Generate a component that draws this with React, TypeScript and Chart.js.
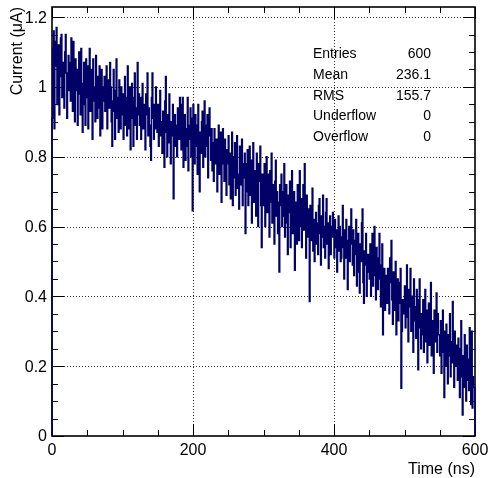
import React, { useEffect, useRef } from "react";
import { Chart, registerables } from "chart.js";

Chart.register(...registerables);

// Histogram: 600 bins of 1 ns, current in µA (bin contents)
const binLowEdges: number[] = Array.from({ length: 600 }, (_, i) => i);

const current000: number[] = [
  0.78, 0.91, 1.11, 1.16, 0.88, 1.06, 1.13, 1.17, 0.95, 1.01, 1.12, 0.92, 1.03, 1.14, 1.15, 0.97, 1.07, 1.00, 0.94, 1.10, 1.15, 1.04, 0.91, 1.01, 1.09,
  0.99, 1.07, 0.96, 1.14, 1.04, 0.93, 1.13, 1.01, 0.90, 1.08, 0.99, 1.05, 0.89, 0.98, 1.10, 1.02, 0.92, 1.11, 1.01, 0.87, 0.95, 1.07, 1.04, 0.89, 1.08,
  0.97, 1.06, 0.88, 1.02, 1.11, 0.93, 0.99, 1.05, 0.85, 1.08, 0.96, 1.00, 0.90, 1.09, 0.97, 0.91, 1.03, 0.94, 1.06, 0.86, 0.99, 1.05, 0.88, 1.00, 0.96,
  1.03, 0.93, 0.99, 1.06, 0.88, 0.97, 1.02, 0.94, 1.07, 1.00, 0.90, 0.83, 0.96, 1.05, 0.93, 0.85, 0.99, 1.08, 0.91, 0.97, 0.87, 1.02, 0.94, 0.88, 1.00,
];
const current100: number[] = [
  0.92, 0.98, 0.85, 0.95, 1.03, 0.89, 0.97, 0.86, 1.06, 0.94, 0.88, 1.00, 0.82, 0.95, 1.01, 0.91, 0.83, 0.97, 1.04, 0.89, 0.94, 0.85, 1.07, 0.92, 0.98,
  0.89, 0.97, 0.85, 0.94, 1.01, 0.88, 0.95, 0.91, 0.82, 0.98, 0.92, 1.04, 0.86, 0.94, 0.89, 0.83, 0.79, 0.97, 1.04, 0.91, 0.85, 0.95, 0.88, 1.00, 0.92,
  0.87, 0.95, 0.83, 0.92, 0.99, 0.86, 0.90, 0.81, 0.93, 0.89, 0.77, 0.96, 1.03, 0.87, 0.80, 0.92, 0.84, 0.98, 0.89, 0.78, 0.90, 0.86, 0.95, 0.68, 0.87,
  0.92, 0.83, 0.89, 0.80, 0.94, 0.88, 0.85, 0.97, 0.91, 0.82, 0.95, 0.97, 0.77, 0.86, 0.92, 0.79, 0.88, 0.83, 0.97, 0.76, 0.89, 0.85, 0.94, 0.80, 0.91,
];
const current200: number[] = [
  0.645, 0.95, 0.86, 0.78, 0.92, 0.83, 0.89, 0.75, 0.95, 0.84, 0.70, 0.87, 0.81, 0.90, 0.93, 0.77, 0.86, 0.96, 0.80, 0.89, 0.83, 0.92, 0.74, 0.86, 0.94,
  0.87, 0.79, 0.88, 0.76, 0.84, 0.73, 0.88, 0.81, 0.78, 0.85, 0.70, 0.82, 0.89, 0.75, 0.79, 0.87, 0.67, 0.84, 0.88, 0.78, 0.73, 0.85, 0.81, 0.69, 0.82,
  0.78, 0.86, 0.72, 0.81, 0.68, 0.77, 0.87, 0.66, 0.80, 0.74, 0.84, 0.69, 0.78, 0.86, 0.71, 0.75, 0.65, 0.83, 0.77, 0.72, 0.85, 0.66, 0.78, 0.74, 0.81,
  0.58, 0.78, 0.70, 0.82, 0.66, 0.75, 0.83, 0.69, 0.79, 0.61, 0.73, 0.84, 0.67, 0.76, 0.72, 0.63, 0.81, 0.70, 0.60, 0.78, 0.73, 0.83, 0.66, 0.54, 0.75,
];
const current300: number[] = [
  0.73, 0.66, 0.78, 0.60, 0.70, 0.80, 0.64, 0.75, 0.69, 0.57, 0.76, 0.67, 0.81, 0.61, 0.72, 0.66, 0.55, 0.73, 0.79, 0.63, 0.70, 0.58, 0.67, 0.47, 0.72,
  0.66, 0.75, 0.60, 0.70, 0.63, 0.78, 0.57, 0.67, 0.72, 0.61, 0.52, 0.69, 0.64, 0.73, 0.54, 0.66, 0.76, 0.58, 0.63, 0.70, 0.475, 0.61, 0.67, 0.55, 0.72,
  0.65, 0.56, 0.76, 0.60, 0.68, 0.54, 0.63, 0.72, 0.59, 0.78, 0.62, 0.51, 0.69, 0.57, 0.65, 0.60, 0.385, 0.66, 0.56, 0.63, 0.71, 0.53, 0.62, 0.50, 0.59,
  0.64, 0.55, 0.61, 0.52, 0.66, 0.68, 0.58, 0.49, 0.63, 0.57, 0.69, 0.54, 0.60, 0.51, 0.64, 0.68, 0.55, 0.61, 0.48, 0.58, 0.63, 0.52, 0.57, 0.60, 0.64,
];
const current400: number[] = [
  0.57, 0.51, 0.62, 0.54, 0.59, 0.47, 0.56, 0.63, 0.53, 0.60, 0.50, 0.51, 0.57, 0.66, 0.54, 0.45, 0.59, 0.51, 0.62, 0.56, 0.42, 0.53, 0.60, 0.50, 0.57,
  0.65, 0.55, 0.49, 0.59, 0.46, 0.56, 0.52, 0.62, 0.43, 0.53, 0.58, 0.47, 0.41, 0.55, 0.50, 0.61, 0.65, 0.44, 0.38, 0.53, 0.49, 0.58, 0.40, 0.52, 0.47,
  0.52, 0.45, 0.55, 0.40, 0.49, 0.58, 0.43, 0.51, 0.60, 0.46, 0.39, 0.54, 0.48, 0.42, 0.51, 0.58, 0.45, 0.37, 0.49, 0.55, 0.29, 0.43, 0.48, 0.36, 0.46,
  0.45, 0.38, 0.48, 0.41, 0.35, 0.51, 0.44, 0.56, 0.39, 0.32, 0.47, 0.42, 0.36, 0.50, 0.29, 0.41, 0.45, 0.33, 0.44, 0.38, 0.48, 0.137, 0.30, 0.39, 0.35,
];
const current500: number[] = [
  0.36, 0.43, 0.31, 0.39, 0.49, 0.34, 0.27, 0.42, 0.37, 0.48, 0.30, 0.36, 0.40, 0.24, 0.45, 0.33, 0.37, 0.28, 0.42, 0.34, 0.19, 0.39, 0.45, 0.31, 0.25,
  0.35, 0.29, 0.39, 0.24, 0.33, 0.42, 0.27, 0.36, 0.21, 0.32, 0.38, 0.26, 0.30, 0.44, 0.23, 0.33, 0.29, 0.18, 0.36, 0.27, 0.32, 0.41, 0.24, 0.35, 0.29,
  0.29, 0.23, 0.33, 0.18, 0.27, 0.36, 0.24, 0.11, 0.30, 0.20, 0.32, 0.26, 0.15, 0.29, 0.23, 0.35, 0.17, 0.27, 0.21, 0.385, 0.24, 0.14, 0.30, 0.20, 0.26,
  0.22, 0.16, 0.28, 0.19, 0.11, 0.25, 0.33, 0.17, 0.06, 0.23, 0.14, 0.29, 0.20, 0.10, 0.26, 0.16, 0.22, 0.13, 0.31, 0.19, 0.09, 0.30, 0.08, 0.17, 0.14,
];

const xMin = 0;
const xMax = 600;
const yMin = 0;
const yMax = 1.229;

const xMajorTicks = [0, 200, 400, 600];
const xTickLabels = ["0", "200", "400", "600"];
const xMinorTicks = [50, 100, 150, 250, 300, 350, 450, 500, 550];
const yMajorTicks = [0, 0.2, 0.4, 0.6, 0.8, 1, 1.2];
const yTickLabels = ["0", "0.2", "0.4", "0.6", "0.8", "1", "1.2"];
const yMinorTicks = [0.05, 0.1, 0.15, 0.25, 0.3, 0.35, 0.45, 0.5, 0.55, 0.65, 0.7, 0.75, 0.85, 0.9, 0.95, 1.05, 1.1, 1.15];

const xTitle = "Time (ns)";
const yTitle = "Current (μA)";
const statNames = ["Entries", "Mean", "RMS", "Underflow", "Overflow"];
const statValues = ["600", "236.1", "155.7", "0", "0"];

const FONT = '"Liberation Sans", Arial, Helvetica, sans-serif';
const LINE_COLOR = "#000066";

const rootAxesPlugin = {
  id: "rootAxes",
  beforeDatasetsDraw(chart: any) {
    const { ctx, chartArea: a, scales } = chart;
    const x = scales.x;
    const y = scales.y;
    ctx.save();
    // dotted grid
    ctx.strokeStyle = "rgba(0,0,0,0.8)";
    ctx.lineWidth = 1;
    ctx.setLineDash([1, 2]);
    xMajorTicks.forEach((v) => {
      if (v === xMin || v === xMax) return;
      const px = Math.round(x.getPixelForValue(v)) + 0.5;
      ctx.beginPath();
      ctx.moveTo(px, a.top);
      ctx.lineTo(px, a.bottom);
      ctx.stroke();
    });
    yMajorTicks.forEach((v) => {
      if (v === yMin) return;
      const py = Math.round(y.getPixelForValue(v)) + 0.5;
      ctx.beginPath();
      ctx.moveTo(a.left, py);
      ctx.lineTo(a.right, py);
      ctx.stroke();
    });
    ctx.setLineDash([]);
    // tick marks (inward, all four sides)
    ctx.strokeStyle = "#000";
    ctx.lineWidth = 1;
    const major = 12;
    const minor = 6;
    const drawX = (v: number, len: number) => {
      const px = Math.round(x.getPixelForValue(v)) + 0.5;
      ctx.beginPath();
      ctx.moveTo(px, a.bottom);
      ctx.lineTo(px, a.bottom - len);
      ctx.moveTo(px, a.top);
      ctx.lineTo(px, a.top + len);
      ctx.stroke();
    };
    const drawY = (v: number, len: number) => {
      const py = Math.round(y.getPixelForValue(v)) + 0.5;
      ctx.beginPath();
      ctx.moveTo(a.left, py);
      ctx.lineTo(a.left + len, py);
      ctx.moveTo(a.right, py);
      ctx.lineTo(a.right - len, py);
      ctx.stroke();
    };
    xMajorTicks.forEach((v) => drawX(v, major));
    xMinorTicks.forEach((v) => drawX(v, minor));
    yMajorTicks.forEach((v) => drawY(v, major));
    yMinorTicks.forEach((v) => drawY(v, minor));
    // frame
    ctx.lineWidth = 1.6;
    ctx.strokeRect(a.left, a.top, a.right - a.left, a.bottom - a.top);
    ctx.restore();
  },
  afterDraw(chart: any) {
    const { ctx, chartArea: a, scales } = chart;
    const x = scales.x;
    const y = scales.y;
    ctx.save();
    ctx.fillStyle = "#000";
    ctx.font = `16px ${FONT}`;
    // y tick labels
    ctx.textAlign = "right";
    ctx.textBaseline = "middle";
    yMajorTicks.forEach((v, i) => {
      ctx.fillText(yTickLabels[i], a.left - 5, y.getPixelForValue(v) + 1);
    });
    // x tick labels
    ctx.textAlign = "center";
    ctx.textBaseline = "alphabetic";
    xMajorTicks.forEach((v, i) => {
      ctx.fillText(xTickLabels[i], x.getPixelForValue(v), a.bottom + 19);
    });
    // axis titles
    ctx.font = `16px ${FONT}`;
    ctx.textAlign = "right";
    ctx.fillText(xTitle, a.right, a.bottom + 38);
    ctx.save();
    ctx.translate(22, a.top);
    ctx.rotate(-Math.PI / 2);
    ctx.textAlign = "right";
    ctx.fillText(yTitle, 0, 0);
    ctx.restore();
    // stats box
    ctx.font = `14px ${FONT}`;
    statNames.forEach((name, i) => {
      const base = 58.3 + 20.7 * i;
      ctx.textAlign = "left";
      ctx.fillText(name, 313, base);
      ctx.textAlign = "right";
      ctx.fillText(statValues[i], 431, base);
    });
    ctx.restore();
  },
};

export default function App() {
  const canvasRef = useRef<HTMLCanvasElement | null>(null);

  useEffect(() => {
    const canvas = canvasRef.current;
    if (!canvas) return;
    const values = [...current000, ...current100, ...current200, ...current300, ...current400, ...current500];
    const points: { x: number; y: number }[] = [{ x: xMin, y: 0 }];
    binLowEdges.forEach((edge, i) => points.push({ x: edge, y: values[i] }));
    points.push({ x: xMax, y: values[values.length - 1] });
    points.push({ x: xMax, y: 0 });

    const chart = new Chart(canvas, {
      type: "line",
      data: {
        datasets: [
          {
            data: points,
            stepped: "after",
            borderColor: LINE_COLOR,
            borderWidth: 1.5,
            pointRadius: 0,
            fill: false,
            clip: false,
          } as any,
        ],
      },
      options: {
        animation: false,
        responsive: false,
        devicePixelRatio: 1,
        layout: { padding: { left: 52, top: 7, right: 15, bottom: 42 } },
        plugins: { legend: { display: false }, tooltip: { enabled: false } },
        events: [],
        scales: {
          x: { type: "linear", min: xMin, max: xMax, display: false },
          y: { type: "linear", min: yMin, max: yMax, display: false },
        },
      },
      plugins: [rootAxesPlugin],
    });
    return () => chart.destroy();
  }, []);

  return (
    <div style={{ position: "fixed", left: 0, top: 0, width: 490, height: 478, background: "#fff" }}>
      <canvas ref={canvasRef} width={490} height={478} style={{ display: "block", width: 490, height: 478 }} />
    </div>
  );
}
